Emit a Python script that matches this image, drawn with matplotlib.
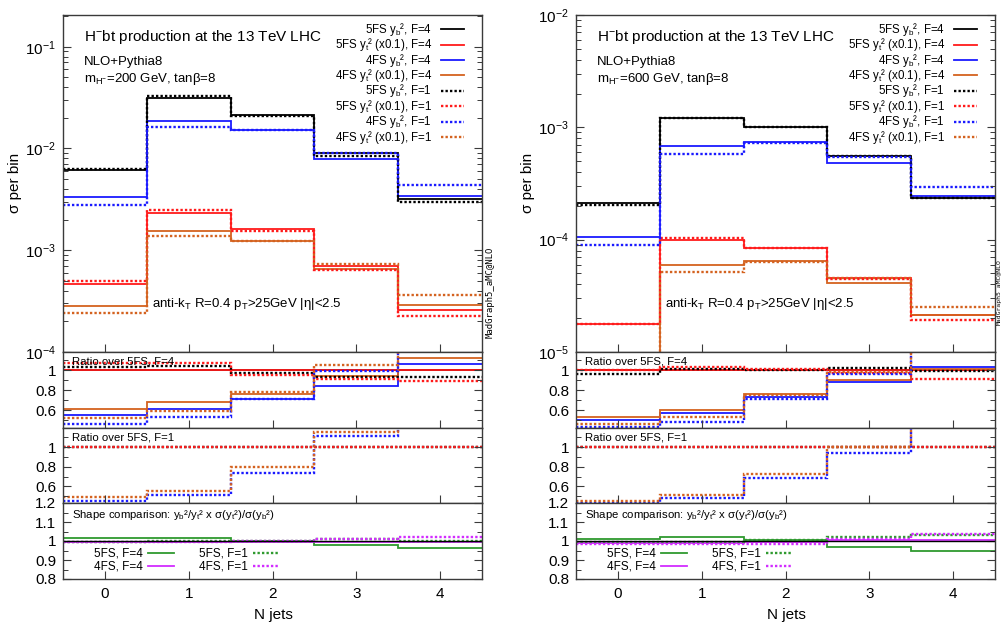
import numpy as np
import matplotlib
matplotlib.use("Agg")
import matplotlib.pyplot as plt
from matplotlib.ticker import FixedLocator, LogLocator, NullFormatter, FuncFormatter

plt.rcParams['font.family'] = ['Liberation Sans', 'DejaVu Sans']
plt.rcParams['mathtext.fontset'] = 'custom'
plt.rcParams['mathtext.rm'] = 'Liberation Sans'
plt.rcParams['mathtext.it'] = 'Liberation Sans'
plt.rcParams['mathtext.bf'] = 'Liberation Sans:bold'
plt.rcParams['mathtext.default'] = 'regular'

# ---------------- data ----------------
njets = [0, 1, 2, 3, 4]
masses = [200, 600]

# sigma per bin, m_H = 200 GeV
s200_5fs_yb_f4 = [6.1e-3, 3.15e-2, 2.13e-2, 9.1e-3, 3.2e-3]
s200_5fs_yt_f4 = [4.63e-4, 2.3e-3, 1.6e-3, 7.0e-4, 2.57e-4]
s200_4fs_yb_f4 = [3.36e-3, 1.88e-2, 1.52e-2, 7.8e-3, 3.41e-3]
s200_4fs_yt_f4 = [2.84e-4, 1.56e-3, 1.22e-3, 6.6e-4, 2.9e-4]
s200_5fs_yb_f1 = [6.3e-3, 3.27e-2, 2.07e-2, 8.5e-3, 3.0e-3]
s200_5fs_yt_f1 = [4.98e-4, 2.47e-3, 1.53e-3, 6.4e-4, 2.28e-4]
s200_4fs_yb_f1 = [2.8e-3, 1.64e-2, 1.52e-2, 9.0e-3, 4.4e-3]
s200_4fs_yt_f1 = [2.41e-4, 1.37e-3, 1.24e-3, 7.35e-4, 3.6e-4]

# sigma per bin, m_H = 600 GeV
s600_5fs_yb_f4 = [2.1e-4, 1.2e-3, 1.01e-3, 5.5e-4, 2.37e-4]
s600_5fs_yt_f4 = [1.78e-5, 1.0e-4, 8.4e-5, 4.6e-5, 2.12e-5]
s600_4fs_yb_f4 = [1.05e-4, 6.8e-4, 7.35e-4, 4.8e-4, 2.44e-4]
s600_4fs_yt_f4 = [9.5e-6, 6.0e-5, 6.4e-5, 4.15e-5, 2.15e-5]
s600_5fs_yb_f1 = [2.02e-4, 1.22e-3, 1.01e-3, 5.6e-4, 2.35e-4]
s600_5fs_yt_f1 = [1.78e-5, 1.03e-4, 8.5e-5, 4.5e-5, 1.93e-5]
s600_4fs_yb_f1 = [9.0e-5, 5.75e-4, 7.25e-4, 5.4e-4, 2.95e-4]
s600_4fs_yt_f1 = [8.2e-6, 5.2e-5, 6.3e-5, 4.6e-5, 2.52e-5]

# ratio over 5FS, F=4
r4_200_5fs_yb_f4 = [1.0, 1.0, 1.0, 1.0, 1.0]
r4_200_5fs_yt_f4 = [1.0, 1.0, 1.0, 1.0, 1.0]
r4_200_4fs_yb_f4 = [0.55, 0.606, 0.716, 0.845, 1.065]
r4_200_4fs_yt_f4 = [0.613, 0.68, 0.76, 0.94, 1.127]
r4_200_5fs_yb_f1 = [1.03, 1.04, 0.97, 0.93, 0.935]
r4_200_5fs_yt_f1 = [1.075, 1.075, 0.955, 0.915, 0.887]
r4_200_4fs_yb_f1 = [0.46, 0.527, 0.716, 0.99, 1.45]
r4_200_4fs_yt_f1 = [0.52, 0.595, 0.777, 1.05, 1.4]

r4_600_5fs_yb_f4 = [1.0, 1.0, 1.0, 1.0, 1.0]
r4_600_5fs_yt_f4 = [1.0, 1.0, 1.0, 1.0, 1.0]
r4_600_4fs_yb_f4 = [0.50, 0.57, 0.73, 0.877, 1.03]
r4_600_4fs_yt_f4 = [0.534, 0.60, 0.76, 0.897, 1.01]
r4_600_5fs_yb_f1 = [0.96, 1.015, 1.0, 1.024, 0.99]
r4_600_5fs_yt_f1 = [1.0, 1.03, 1.01, 0.976, 0.91]
r4_600_4fs_yb_f1 = [0.435, 0.48, 0.716, 0.965, 1.25]
r4_600_4fs_yt_f1 = [0.46, 0.53, 0.75, 0.98, 1.22]

# ratio over 5FS, F=1
r1_200_5fs_yb_f1 = [1.0, 1.0, 1.0, 1.0, 1.0]
r1_200_5fs_yt_f1 = [1.0, 1.0, 1.0, 1.0, 1.0]
r1_200_4fs_yb_f1 = [0.45, 0.51, 0.733, 1.116, 1.45]
r1_200_4fs_yt_f1 = [0.49, 0.55, 0.80, 1.158, 1.6]

r1_600_5fs_yb_f1 = [1.0, 1.0, 1.0, 1.0, 1.0]
r1_600_5fs_yt_f1 = [1.0, 1.0, 1.0, 1.0, 1.0]
r1_600_4fs_yb_f1 = [0.43, 0.483, 0.69, 0.935, 1.26]
r1_600_4fs_yt_f1 = [0.45, 0.51, 0.73, 1.0, 1.3]

# shape comparison
sh200_5fs_f4 = [1.014, 1.016, 0.998, 0.977, 0.961]
sh200_4fs_f4 = [0.993, 0.993, 0.995, 0.993, 0.993]
sh200_5fs_f1 = [0.997, 0.999, 1.0, 1.008, 1.0]
sh200_4fs_f1 = [0.993, 0.993, 0.999, 1.009, 1.023]

sh600_5fs_f4 = [1.012, 1.023, 1.005, 0.97, 0.95]
sh600_4fs_f4 = [0.99, 0.99, 0.996, 1.003, 1.003]
sh600_5fs_f1 = [0.995, 0.995, 1.005, 1.023, 1.03]
sh600_4fs_f1 = [0.982, 0.982, 0.982, 1.012, 1.035]

legend_labels = ['5FS y$_b$², F=4', '5FS y$_t$² (x0.1), F=4',
                 '4FS y$_b$², F=4', '4FS y$_t$² (x0.1), F=4',
                 '5FS y$_b$², F=1', '5FS y$_t$² (x0.1), F=1',
                 '4FS y$_b$², F=1', '4FS y$_t$² (x0.1), F=1']
shape_labels = ['5FS, F=4', '4FS, F=4', '5FS, F=1', '4FS, F=1']

# ---------------- styles ----------------
BLACK, RED, BLUE, BROWN = '#000000', '#ff1a1a', '#1a1aff', '#d4621f'
GREEN, MAGENTA = '#2f9a2f', '#d22cff'
FRAME = '#3a3a3a'
DOT = (0, (1.0, 0.9))
colors8 = [BLACK, RED, BLUE, BROWN, BLACK, RED, BLUE, BROWN]
styles8 = ['-'] * 4 + [DOT] * 4

edges = np.arange(len(njets) + 1) - 0.5

W, H = 1001, 623
fig = plt.figure(figsize=(W / 100, H / 100), dpi=100)


def add_ax(l, t, r, b):
    return fig.add_axes([l / W, 1 - b / H, (r - l) / W, (b - t) / H])


def stair(ax, vals, color, ls, lw=None):
    if lw is None:
        lw = 1.3 if ls == '-' else 1.7
    ax.stairs(vals, edges, baseline=None, color=color, linestyle=ls, linewidth=lw)


def frame(ax):
    for s in ax.spines.values():
        s.set_color(FRAME)
        s.set_linewidth(1.0)
    ax.set_xlim(-0.5, 4.5)
    ax.xaxis.set_major_locator(FixedLocator(njets))
    ax.tick_params(axis='x', direction='in', length=6, width=0.8, color=FRAME,
                   top=False, bottom=True, labelbottom=False)
    ax.tick_params(axis='y', which='both', direction='in', color=FRAME,
                   left=True, right=True, labelsize=11, pad=5)
    ax.tick_params(axis='y', which='major', length=6, width=0.8)
    ax.tick_params(axis='y', which='minor', length=3.5, width=0.7)


gfmt = FuncFormatter(lambda v, p: '%g' % v)

panels = [
    dict(left=63, mass=200, ylim=(1e-4, 0.205), mg_x=1.019, mg_fs=6.5,
         sig=[s200_5fs_yb_f4, s200_5fs_yt_f4, s200_4fs_yb_f4, s200_4fs_yt_f4,
              s200_5fs_yb_f1, s200_5fs_yt_f1, s200_4fs_yb_f1, s200_4fs_yt_f1],
         r4=[r4_200_5fs_yb_f4, r4_200_5fs_yt_f4, r4_200_4fs_yb_f4, r4_200_4fs_yt_f4,
             r4_200_5fs_yb_f1, r4_200_5fs_yt_f1, r4_200_4fs_yb_f1, r4_200_4fs_yt_f1],
         r1=[r1_200_5fs_yb_f1, r1_200_5fs_yt_f1, r1_200_4fs_yb_f1, r1_200_4fs_yt_f1],
         sh=[sh200_5fs_f4, sh200_4fs_f4, sh200_5fs_f1, sh200_4fs_f1]),
    dict(left=576, mass=600, ylim=(1e-5, 1e-2), mg_x=1.0105, mg_fs=4.6,
         sig=[s600_5fs_yb_f4, s600_5fs_yt_f4, s600_4fs_yb_f4, s600_4fs_yt_f4,
              s600_5fs_yb_f1, s600_5fs_yt_f1, s600_4fs_yb_f1, s600_4fs_yt_f1],
         r4=[r4_600_5fs_yb_f4, r4_600_5fs_yt_f4, r4_600_4fs_yb_f4, r4_600_4fs_yt_f4,
             r4_600_5fs_yb_f1, r4_600_5fs_yt_f1, r4_600_4fs_yb_f1, r4_600_4fs_yt_f1],
         r1=[r1_600_5fs_yb_f1, r1_600_5fs_yt_f1, r1_600_4fs_yb_f1, r1_600_4fs_yt_f1],
         sh=[sh600_5fs_f4, sh600_4fs_f4, sh600_5fs_f1, sh600_4fs_f1]),
]

for P in panels:
    L = P['left']
    R = L + 419
    ax = add_ax(L, 15, R, 352)
    a1 = add_ax(L, 352, R, 428)
    a2 = add_ax(L, 428, R, 503)
    a3 = add_ax(L, 503, R, 579)

    # ---- main panel
    ax.set_yscale('log')
    ax.set_ylim(*P['ylim'])
    for vals, c, ls in zip(P['sig'], colors8, styles8):
        stair(ax, vals, c, ls)
    frame(ax)
    ax.yaxis.set_minor_locator(LogLocator(base=10, subs=np.arange(2, 10)))
    ax.yaxis.set_minor_formatter(NullFormatter())

    ax.text(0.05, 0.923, 'H$^{-}$bt production at the 13 TeV LHC', transform=ax.transAxes,
            fontsize=11, va='baseline', ha='left')
    ax.text(0.05, 0.852, 'NLO+Pythia8', transform=ax.transAxes,
            fontsize=9.5, va='baseline', ha='left')
    ax.text(0.05, 0.802, 'm$_{H^{-}}$=%d GeV, tanβ=8' % P['mass'], transform=ax.transAxes,
            fontsize=9.5, va='baseline', ha='left')
    ax.text(0.212, 0.134, 'anti-k$_T$ R=0.4 p$_T$>25GeV |η|<2.5', transform=ax.transAxes,
            fontsize=9.5, va='baseline', ha='left')
    for i, (lab, c, ls) in enumerate(zip(legend_labels, colors8, styles8)):
        yc = 0.958 - i * 0.0457
        ax.text(0.881, yc - 0.011, lab, transform=ax.transAxes, fontsize=8.3,
                ha='right', va='baseline')
        ax.plot([0.902, 0.957], [yc, yc], transform=ax.transAxes, color=c,
                linestyle=ls, linewidth=1.3 if ls == '-' else 1.7)
    ax.text(P['mg_x'], 0.177, 'MadGraph5_aMC@NLO', transform=ax.transAxes, rotation=90,
            fontsize=P['mg_fs'], family='DejaVu Sans Mono', ha='center', va='center',
            clip_on=False)

    # ---- ratio over 5FS F=4
    a1.set_ylim(0.42, 1.183)
    for vals, c, ls in zip(P['r4'], colors8, styles8):
        stair(a1, vals, c, ls)
    frame(a1)
    a1.yaxis.set_major_locator(FixedLocator([0.6, 0.8, 1.0]))
    a1.yaxis.set_minor_locator(FixedLocator([0.5, 0.7, 0.9, 1.1]))
    a1.yaxis.set_major_formatter(gfmt)
    a1.text(0.0215, 0.83, 'Ratio over 5FS, F=4', transform=a1.transAxes,
            fontsize=8.2, va='baseline', ha='left')

    # ---- ratio over 5FS F=1
    a2.set_ylim(0.43, 1.195)
    for vals, c in zip(P['r1'], [BLACK, RED, BLUE, BROWN]):
        stair(a2, vals, c, DOT)
    frame(a2)
    a2.yaxis.set_major_locator(FixedLocator([0.6, 0.8, 1.0]))
    a2.yaxis.set_minor_locator(FixedLocator([0.5, 0.7, 0.9, 1.1]))
    a2.yaxis.set_major_formatter(gfmt)
    a2.text(0.0215, 0.83, 'Ratio over 5FS, F=1', transform=a2.transAxes,
            fontsize=8.2, va='baseline', ha='left')

    # ---- shape comparison
    a3.set_ylim(0.8, 1.2)
    a3.axhline(1.0, color=BLACK, lw=1.0)
    sh_cols = [GREEN, MAGENTA, GREEN, MAGENTA]
    sh_ls = ['-', '-', DOT, DOT]
    for vals, c, ls in zip(P['sh'], sh_cols, sh_ls):
        stair(a3, vals, c, ls)
    frame(a3)
    a3.yaxis.set_major_locator(FixedLocator([0.8, 0.9, 1.0, 1.1, 1.2]))
    a3.yaxis.set_minor_locator(FixedLocator([0.85, 0.95, 1.05, 1.15]))
    a3.yaxis.set_major_formatter(gfmt)
    a3.tick_params(axis='x', labelbottom=True, labelsize=11, pad=6)
    a3.text(0.0215, 0.8,
            'Shape comparison: y$_b$²/y$_t$² x σ(y$_t$²)/σ(y$_b$²)',
            transform=a3.transAxes, fontsize=8.2, va='baseline', ha='left')
    for j, (lab, c, ls) in enumerate(zip(shape_labels, sh_cols, sh_ls)):
        col = j // 2
        row = j % 2
        yc = 0.342 - row * 0.171
        xr = [0.191, 0.4415][col]
        xl0 = [0.203, 0.4535][col]
        a3.text(xr, yc, lab, transform=a3.transAxes, fontsize=8.5,
                ha='right', va='center')
        a3.plot([xl0, xl0 + 0.062], [yc, yc], transform=a3.transAxes, color=c,
                linestyle=ls, linewidth=1.3 if ls == '-' else 1.7)

    fig.text((L - 48) / W, 1 - 183 / H, 'σ per bin', rotation=90, fontsize=11,
             ha='center', va='center')
    fig.text((L + 210) / W, 1 - 615 / H, 'N jets', fontsize=11, ha='center', va='center')

fig.savefig('out.png', dpi=100)
